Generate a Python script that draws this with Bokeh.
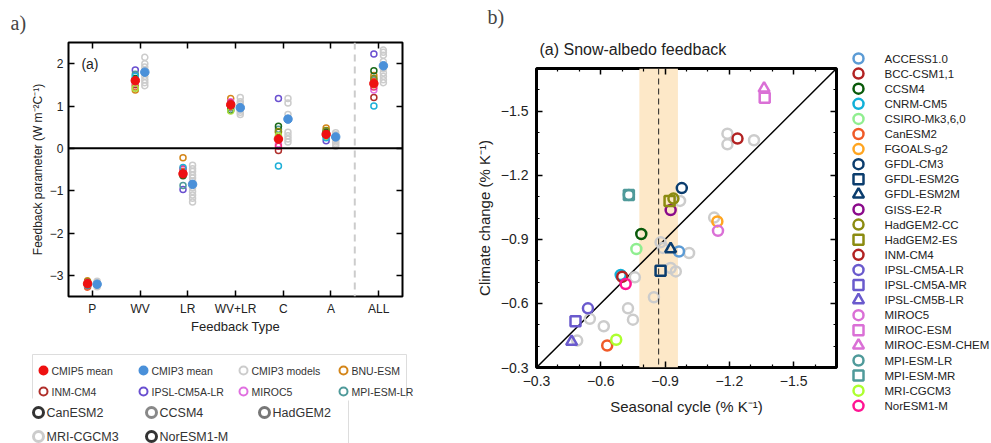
from bokeh.plotting import figure
from bokeh.models import (Range1d, LinearAxis, FixedTicker, Span, BoxAnnotation,
                          Title, Label, CustomJSTickFormatter)
from bokeh.layouts import row, column
from bokeh.core.properties import value
from bokeh.embed import file_html
from bokeh.resources import INLINE

SANS = "Liberation Sans"
SERIF = "Liberation Serif"

# ------------------------------------------------------------------ panel a data
categories = ["P", "WV", "LR", "WV+LR", "C", "A", "ALL"]
cmip5_mean = [-3.20, 1.60, -0.60, 1.03, 0.22, 0.33, 1.53]
cmip3_mean = [-3.21, 1.80, -0.85, 0.96, 0.69, 0.27, 1.95]

cmip3_P = [-3.14, -3.17, -3.20, -3.22, -3.25, -3.27]
cmip3_WV = [1.48, 1.55, 1.62, 1.70, 1.78, 1.85, 1.92, 2.00, 2.15]
cmip3_LR = [-0.40, -0.48, -0.55, -0.63, -0.70, -0.78, -0.93, -1.02, -1.10, -1.18, -1.27]
cmip3_WVLR = [0.80, 0.85, 0.90, 0.95, 1.00, 1.05, 1.10, 1.20]
cmip3_C = [0.15, 0.22, 0.30, 0.38, 0.80, 1.07, 1.18]
cmip3_A = [0.05, 0.10, 0.15, 0.20, 0.25, 0.32, 0.37]
cmip3_ALL = [1.55, 1.62, 1.70, 1.78, 1.88, 2.05, 2.20, 2.27, 2.32]

bnu_esm = [-3.13, 1.38, -0.22, 1.18, 0.38, 0.48, 1.72]
inm_cm4 = [-3.25, 1.50, -0.62, 1.05, -0.05, 0.35, 1.20]
ipsl_cm5a_lr = [-3.22, 1.85, -0.97, 1.00, 1.18, 0.18, 2.23]
miroc5 = [-3.18, 1.55, -0.50, 1.10, 0.10, 0.30, 1.38]
mpi_esm_lr = [-3.20, 1.75, -0.88, 0.95, 0.45, 0.40, 1.62]
canesm2 = [-3.28, 1.45, -0.55, 0.98, 0.20, 0.30, 1.58]
ccsm4 = [-3.20, 1.65, -0.65, 0.90, 0.52, 0.38, 1.83]
hadgem2 = [-3.15, 1.60, -0.60, 1.02, 0.40, 0.42, 1.65]
mri_cgcm3 = [-3.22, 1.42, -0.58, 0.88, 0.30, 0.28, 1.50]
noresm1_m = [-3.17, 1.58, -0.48, 1.08, 0.05, 0.32, 1.45]
cnrm_cm5 = [-3.24, 1.70, -0.45, 1.05, -0.42, 0.25, 1.00]

models_a = ["BNU-ESM", "INM-CM4", "IPSL-CM5A-LR", "MIROC5", "MPI-ESM-LR",
            "CanESM2", "CCSM4", "HadGEM2", "MRI-CGCM3", "NorESM1-M", "CNRM-CM5"]
colors_a = ["#d4861a", "#b0302c", "#6a50d0", "#e070e0", "#4f9a9a",
            "#f05a28", "#1a6a1a", "#8b8b10", "#a8e040", "#f0307a", "#20b0d8"]
RED = "#ee1111"
BLUE = "#4a90d9"
GREY = "#cccccc"

legend1_labels = ["CMIP5 mean", "CMIP3 mean", "CMIP3 models", "BNU-ESM",
                  "INM-CM4", "IPSL-CM5A-LR", "MIROC5", "MPI-ESM-LR"]
legend1_colors = [RED, BLUE, GREY, "#d4861a", "#b0302c", "#6a50d0", "#e070e0", "#4f9a9a"]
legend1_filled = [1, 1, 0, 0, 0, 0, 0, 0]
legend2_labels = ["CanESM2", "CCSM4", "HadGEM2", "MRI-CGCM3", "NorESM1-M"]
legend2_colors = ["#333333", "#888888", "#777777", "#cccccc", "#333333"]

# ------------------------------------------------------------------ panel b data
models_b = ["ACCESS1.0", "BCC-CSM1,1", "CCSM4", "CNRM-CM5", "CSIRO-Mk3,6,0", "CanESM2",
            "FGOALS-g2", "GFDL-CM3", "GFDL-ESM2G", "GFDL-ESM2M", "GISS-E2-R", "HadGEM2-CC",
            "HadGEM2-ES", "INM-CM4", "IPSL-CM5A-LR", "IPSL-CM5A-MR", "IPSL-CM5B-LR", "MIROC5",
            "MIROC-ESM", "MIROC-ESM-CHEM", "MPI-ESM-LR", "MPI-ESM-MR", "MRI-CGCM3", "NorESM1-M"]
seasonal_b = [-0.965, -1.238, -0.789, -0.693, -0.766, -0.630, -1.144, -0.978, -0.879, -0.926,
              -0.926, -0.939, -0.921, -0.700, -0.540, -0.482, -0.464, -1.147, -1.365, -1.362,
              -0.731, -0.731, -0.672, -0.716]
climate_b = [-0.843, -1.372, -0.925, -0.733, -0.855, -0.403, -0.984, -1.140, -0.753, -0.855,
             -1.037, -1.091, -1.080, -0.725, -0.577, -0.516, -0.421, -0.940, -1.563, -1.607,
             -1.108, -1.108, -0.430, -0.691]
colors_b = ["#5b9bd5", "#b22222", "#0a5a0a", "#10b0d8", "#90ee90", "#f05a28",
            "#ffa520", "#0b3d6e", "#0b3d6e", "#0b3d6e", "#8b0a8b", "#8b8b10",
            "#8b8b10", "#b22222", "#6a5acd", "#6a5acd", "#6a5acd", "#da70d6",
            "#da70d6", "#da70d6", "#4f9a9a", "#4f9a9a", "#adff2f", "#ff1493"]
markers_b = ["circle", "circle", "circle", "circle", "circle", "circle",
             "circle", "circle", "square", "triangle", "circle", "circle",
             "square", "circle", "circle", "square", "triangle", "circle",
             "square", "triangle", "circle", "square", "circle", "circle"]
cmip3_seasonal = [-1.191, -1.191, -1.315, -0.970, -1.129, -0.879, -0.890, -1.012, -0.926,
                  -0.950, -0.759, -0.848, -0.549, -0.614, -0.727, -0.750, -0.490]
cmip3_climate = [-1.395, -1.345, -1.364, -1.080, -1.002, -0.886, -0.860, -0.836, -0.766,
                 -0.750, -0.722, -0.629, -0.528, -0.493, -0.577, -0.524, -0.426]
observed_center = -0.87
observed_low = -0.78
observed_high = -0.96
one_to_one = [-0.3, -1.7]
ticks_b = [-0.3, -0.6, -0.9, -1.2, -1.5]
minor_b = [-0.4, -0.5, -0.7, -0.8, -1.0, -1.1, -1.3, -1.4, -1.6]

BLANK = CustomJSTickFormatter(code="return ''")


def style_axis(ax, size, show_labels=True, minor=False):
    ax.axis_line_color = None
    ax.major_tick_in = 6
    ax.major_tick_out = 0
    ax.major_tick_line_color = "black"
    ax.major_tick_line_width = 1.5
    if minor:
        ax.minor_tick_in = 3
        ax.minor_tick_out = 0
        ax.minor_tick_line_color = "black"
        ax.minor_tick_line_width = 1.2
    else:
        ax.minor_tick_line_color = None
    ax.major_label_text_font = SANS
    ax.major_label_text_color = "#222222"
    ax.major_label_text_font_size = size
    if not show_labels:
        ax.formatter = BLANK
        ax.major_label_standoff = 0
    ax.axis_label_text_font = SANS
    ax.axis_label_text_font_style = "normal"
    ax.axis_label_text_color = "#222222"


def legend_canvas(w, h):
    f = figure(width=w, height=h, x_range=Range1d(0, w), y_range=Range1d(h, 0),
               output_backend="svg", toolbar_location=None, title=None,
               x_axis_location=None, y_axis_location=None, min_border=0,
               frame_align=False)
    f.grid.visible = False
    f.outline_line_color = None
    return f


# ================================================================== panel a
pa = figure(frame_width=334, frame_height=254, x_range=Range1d(0.5, 7.5),
            y_range=Range1d(-3.5, 2.5), output_backend="svg", toolbar_location=None,
            title=None, min_border_left=68, min_border_right=36, min_border_top=42,
            min_border_bottom=50, frame_align=False)
pa.grid.visible = False
pa.outline_line_color = "black"
pa.outline_line_width = 2

cat_pos = [i + 1 for i in range(len(categories))]
x5 = [p - 0.1 for p in cat_pos]
x3 = [p + 0.1 for p in cat_pos]

pa.xaxis.ticker = FixedTicker(ticks=cat_pos)
pa.xaxis.major_label_overrides = {p: c for p, c in zip(cat_pos, categories)}
pa.yaxis.ticker = FixedTicker(ticks=[-3, -2, -1, 0, 1, 2])
style_axis(pa.xaxis[0], "12px")
style_axis(pa.yaxis[0], "12px")
pa.xaxis.axis_label = "Feedback Type"
pa.xaxis.axis_label_text_font_size = "13px"
pa.xaxis.axis_label_standoff = 0
pa.yaxis.axis_label = "Feedback parameter (W m\u207b\u00b2C\u207b\u00b9)"
pa.yaxis.axis_label_text_font_size = "12px"
pa.yaxis.axis_label_standoff = 2

top_a = LinearAxis(ticker=FixedTicker(ticks=cat_pos))
style_axis(top_a, "10px", show_labels=False)
pa.add_layout(top_a, "above")
right_a = LinearAxis(ticker=FixedTicker(ticks=[-3, -2, -1, 0, 1, 2]))
style_axis(right_a, "10px", show_labels=False)
pa.add_layout(right_a, "right")

pa.add_layout(Span(location=0, dimension="width", line_color="black", line_width=2))
pa.add_layout(Span(location=6.5, dimension="height", line_color=GREY,
                   line_width=2, line_dash="7 5"))

cmip3_models = [cmip3_P, cmip3_WV, cmip3_LR, cmip3_WVLR, cmip3_C, cmip3_A, cmip3_ALL]
gx = [x for x, vals in zip(x3, cmip3_models) for _ in vals]
gy = [v for vals in cmip3_models for v in vals]
pa.scatter(gx, gy, marker="circle", size=6, fill_color=None, line_color=GREY, line_width=1.5)

model_values_a = [bnu_esm, inm_cm4, ipsl_cm5a_lr, miroc5, mpi_esm_lr, canesm2, ccsm4,
                  hadgem2, mri_cgcm3, noresm1_m, cnrm_cm5]
for name, vals, col in zip(models_a, model_values_a, colors_a):
    pa.scatter(x5, vals, marker="circle", size=6, fill_color=None, line_color=col,
               line_width=1.5)

pa.scatter(x5, cmip5_mean, marker="circle", size=8.5, fill_color=RED, line_color=RED)
pa.scatter(x3, cmip3_mean, marker="circle", size=8.5, fill_color=BLUE, line_color=BLUE)

pa.add_layout(Label(x=0.77, y=2.0, text="(a)", text_font=SANS, text_font_size="14px",
                    text_baseline="middle", text_color="#222222"))
pa.add_layout(Title(text="a)", align="left", offset=-58, text_font=SERIF,
                    text_font_size="20px", text_font_style="normal", standoff=17), "above")

# ---------------- legend under panel a (page y 346..443)
la = legend_canvas(438, 97)
la.multi_line(xs=[[32, 32, 406, 406]], ys=[[52, 8, 8, 52]], line_color="#dddddd",
              line_width=1)
la.segment(x0=[348], y0=[54], x1=[348], y1=[97], line_color="#dddddd", line_width=1)
l1x = [43 + (i % 4) * 100 for i in range(len(legend1_labels))]
l1y = [24 + (i // 4) * 21 for i in range(len(legend1_labels))]
la.scatter(l1x, l1y, marker="circle", size=8, line_color=legend1_colors, line_width=2,
           fill_color=legend1_colors, fill_alpha=legend1_filled)
la.text([x + 8 for x in l1x], l1y, text=legend1_labels, text_font=value(SANS),
        text_font_size="10.5px", text_baseline="middle", text_color="#333333")
l2x = [38 + (i % 3) * 113 for i in range(len(legend2_labels))]
l2y = [66 + (i // 3) * 24 for i in range(len(legend2_labels))]
la.scatter(l2x, l2y, marker="circle", size=10, fill_color=None, line_color=legend2_colors,
           line_width=3)
la.text([x + 8 for x in l2x], l2y, text=legend2_labels, text_font=value(SANS),
        text_font_size="12.5px", text_baseline="middle", text_color="#333333")

# ================================================================== panel b
pb = figure(frame_width=300, frame_height=299, x_range=Range1d(-0.3, -1.7),
            y_range=Range1d(-0.3, -1.7), output_backend="svg", toolbar_location=None,
            title=None, min_border_left=98, min_border_right=10, min_border_top=68,
            min_border_bottom=76, frame_align=False)
pb.grid.visible = False
pb.outline_line_color = "black"
pb.outline_line_width = 3

for ax in (pb.xaxis[0], pb.yaxis[0]):
    ax.ticker = FixedTicker(ticks=ticks_b, minor_ticks=minor_b)
    style_axis(ax, "14px", minor=True)
    ax.axis_label_text_font_size = "15px"
pb.xaxis.axis_label = "Seasonal cycle (% K\u207b\u00b9)"
pb.yaxis.axis_label = "Climate change (% K\u207b\u00b9)"
pb.xaxis.major_label_standoff = 8
pb.yaxis.major_label_standoff = 8
pb.xaxis.axis_label_standoff = 9
for side in ("above", "right"):
    ax = LinearAxis(ticker=FixedTicker(ticks=ticks_b, minor_ticks=minor_b))
    style_axis(ax, "10px", show_labels=False, minor=True)
    pb.add_layout(ax, side)

pb.add_layout(BoxAnnotation(left=observed_low, right=observed_high, fill_color="#fde8c8",
                            fill_alpha=1, line_color=None, level="underlay"))
pb.add_layout(Span(location=observed_center, dimension="height", line_color="#222222",
                   line_width=1, line_dash="6 4"))
pb.line(one_to_one, one_to_one, line_color="black", line_width=1.5)

pb.scatter(cmip3_seasonal, cmip3_climate, marker="circle", size=10, fill_color=None,
           line_color=GREY, line_width=2.5)
sizes_b = [11 if m == "triangle" else 10 for m in markers_b]
pb.scatter(seasonal_b, climate_b, marker=markers_b, size=sizes_b, fill_color=None,
           line_color=colors_b, line_width=2.5)

pb.add_layout(Title(text="(a) Snow-albedo feedback", align="left", offset=3,
                    text_font=SANS, text_font_size="16px", text_font_style="normal",
                    text_color="#222222", standoff=21), "above")
pb.add_layout(Title(text="b)", align="left", offset=-49, text_font=SERIF,
                    text_font_size="20px", text_font_style="normal", standoff=1), "above")

# ---------------- legend right of panel b (page x 846..991)
lb = legend_canvas(145, 443)
lbx = [12 for _ in models_b]
lby = [58 + i * 15.1 for i in range(len(models_b))]
lb.scatter(lbx, lby, marker=markers_b, size=sizes_b, fill_color=None, line_color=colors_b,
           line_width=2.5)
lb.text([x + 26 for x in lbx], lby, text=models_b, text_font=value(SANS),
        text_font_size="11.5px", text_baseline="middle", text_color="#222222")

layout = row(column(pa, la, spacing=0), pb, lb, spacing=0)
open("out.html", "w").write(file_html(layout, INLINE))
